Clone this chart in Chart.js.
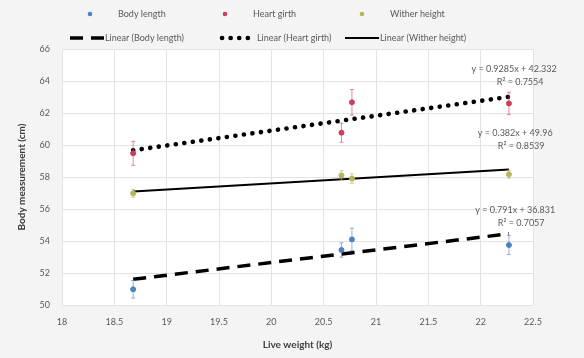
<!DOCTYPE html>
<html>
<head>
<meta charset="utf-8">
<script src="https://cdn.jsdelivr.net/npm/chart.js@4.4.1/dist/chart.umd.min.js"></script>
<style>
  html, body { margin: 0; padding: 0; background: #f4f4f4; }
  #wrap { width: 584px; height: 358px; }
</style>
</head>
<body>
<div id="wrap"><canvas id="myChart" width="584" height="358"></canvas></div>
<script>
// live weight (kg) of each group
const pesoVivo = [18.68, 20.67, 20.77, 22.27];

const largoCuerpo = [50.98, 53.44, 54.10, 53.75];
const errLargo = [0.55, 0.45, 0.7, 0.6];
const perimetroToracico = [59.48, 60.77, 62.67, 62.60];
const errPerimetro = [0.75, 0.6, 0.8, 0.7];
const alturaCruz = [56.98, 58.10, 57.90, 58.17];
const errAltura = [0.25, 0.3, 0.3, 0.25];

// trendline ends (Excel linear fit)
const tendX = [18.68, 22.27];
const tendLargo = [51.61, 54.45];
const tendPerimetro = [59.67, 63.01];
const tendAltura = [57.10, 58.47];

const ecuaciones = [
  ["y = 0.9285x + 42.332", "R² = 0.7554"],
  ["y = 0.382x + 49.96", "R² = 0.8539"],
  ["y = 0.791x + 36.831", "R² = 0.7057"],
];
const ecuacionPos = [[22.32, 64.77], [22.33, 60.75], [22.33, 55.95]];

const ticksX = [18, 18.5, 19, 19.5, 20, 20.5, 21, 21.5, 22, 22.5];
const ticksY = [50, 52, 54, 56, 58, 60, 62, 64, 66];

const azul = "#4f81c7";
const rojo = "#cc3f5c";
const oliva = "#b5b55a";
const fuente = "Lato, 'Open Sans', sans-serif";

const puntos = (xs, ys) => xs.map((x, i) => ({ x: x, y: ys[i] }));

const datasets = [
  { label: "Body length", data: puntos(pesoVivo, largoCuerpo), err: errLargo, showLine: false,
    backgroundColor: azul, borderColor: azul, pointRadius: 2.5 },
  { label: "Heart girth", data: puntos(pesoVivo, perimetroToracico), err: errPerimetro, showLine: false,
    backgroundColor: rojo, borderColor: rojo, pointRadius: 2.5 },
  { label: "Wither height", data: puntos(pesoVivo, alturaCruz), err: errAltura, showLine: false,
    backgroundColor: oliva, borderColor: oliva, pointRadius: 2.5 },
  { label: "Linear (Body length)", data: puntos(tendX, tendLargo), showLine: true, pointRadius: 0,
    borderColor: "#000", borderWidth: 3.5, borderDash: [13, 8] },
  { label: "Linear (Heart girth)", data: puntos(tendX, tendPerimetro), showLine: true, pointRadius: 0,
    borderColor: "#000", borderWidth: 4.6, borderDash: [0.1, 8.5], borderCapStyle: "round" },
  { label: "Linear (Wither height)", data: puntos(tendX, tendAltura), showLine: true, pointRadius: 0,
    borderColor: "#000", borderWidth: 2 },
];

const fondoArea = {
  id: "fondoArea",
  beforeDraw(chart) {
    const { ctx, chartArea: a } = chart;
    ctx.save();
    ctx.fillStyle = "#ffffff";
    ctx.fillRect(a.left, a.top, a.right - a.left, a.bottom - a.top);
    ctx.restore();
  },
};

const barrasError = {
  id: "barrasError",
  afterDatasetsDraw(chart) {
    const { ctx, scales } = chart;
    ctx.save();
    chart.data.datasets.forEach((ds) => {
      if (!ds.err) return;
      ctx.strokeStyle = ds.borderColor;
      ctx.globalAlpha = 0.6;
      ctx.lineWidth = 1;
      ds.data.forEach((p, i) => {
        const x = scales.x.getPixelForValue(p.x);
        const y1 = scales.y.getPixelForValue(p.y + ds.err[i]);
        const y2 = scales.y.getPixelForValue(p.y - ds.err[i]);
        ctx.beginPath();
        ctx.moveTo(x, y1); ctx.lineTo(x, y2);
        ctx.moveTo(x - 2, y1); ctx.lineTo(x + 2, y1);
        ctx.moveTo(x - 2, y2); ctx.lineTo(x + 2, y2);
        ctx.stroke();
      });
    });
    ctx.restore();
  },
};

const textos = {
  id: "textos",
  afterDraw(chart) {
    const { ctx, scales } = chart;
    ctx.save();
    ctx.fillStyle = "#595959";
    ctx.font = "9px " + fuente;
    ctx.textAlign = "center";
    ctx.textBaseline = "middle";
    ecuaciones.forEach((eq, i) => {
      const x = scales.x.getPixelForValue(ecuacionPos[i][0]);
      const y = scales.y.getPixelForValue(ecuacionPos[i][1]);
      ctx.fillText(eq[0], x, y);
      ctx.fillText(eq[1], x + 6, y + 13);
    });

    // legend, two rows
    ctx.textAlign = "left";
    const fila1 = [[90, azul, "Body length"], [225, rojo, "Heart girth"], [362, oliva, "Wither height"]];
    fila1.forEach(([x, c, t]) => {
      ctx.fillStyle = c;
      ctx.beginPath(); ctx.arc(x, 14, 2.3, 0, Math.PI * 2); ctx.fill();
      ctx.fillStyle = "#595959";
      ctx.fillText(t, x + 28, 14);
    });
    const fila2 = [[70, 3.5, [13, 8], "butt", "Linear (Body length)"],
                   [222, 4.6, [0.1, 8.5], "round", "Linear (Heart girth)"],
                   [345, 2, [], "butt", "Linear (Wither height)"]];
    fila2.forEach(([x, w, d, cap, t]) => {
      ctx.strokeStyle = "#000";
      ctx.lineWidth = w;
      ctx.setLineDash(d);
      ctx.lineCap = cap;
      ctx.beginPath(); ctx.moveTo(x, 38); ctx.lineTo(x + 34, 38); ctx.stroke();
      ctx.setLineDash([]);
      ctx.fillStyle = "#595959";
      ctx.fillText(t, x + 35, 38);
    });
    ctx.restore();
  },
};

const config = {
  type: "scatter",
  data: { datasets },
  options: {
    responsive: false,
    animation: false,
    layout: { padding: { top: 49, right: 51, left: 12, bottom: 7 } },
    plugins: { legend: { display: false }, tooltip: { enabled: false } },
    scales: {
      x: {
        type: "linear", min: 18, max: 22.5,
        afterBuildTicks: (s) => { s.ticks = ticksX.map((v) => ({ value: v })); },
        afterFit: (s) => { s.height = 46; },
        grid: { color: "#e3e3e3", drawTicks: false },
        border: { display: false },
        ticks: { color: "#595959", font: { family: fuente, size: 9 }, padding: 12,
                 callback: (v) => String(v) },
        title: { display: true, text: "Live weight (kg)", color: "#404040",
                 font: { family: fuente, size: 10, weight: "bold" }, padding: { top: 2, bottom: 0 } },
      },
      y: {
        type: "linear", min: 50, max: 66,
        afterBuildTicks: (s) => { s.ticks = ticksY.map((v) => ({ value: v })); },
        afterFit: (s) => { s.width = 50; },
        grid: { color: "#e3e3e3", drawTicks: false },
        border: { display: false },
        ticks: { color: "#595959", font: { family: fuente, size: 9 }, padding: 12 },
        title: { display: true, text: "Body measurement (cm)", color: "#404040",
                 font: { family: fuente, size: 10, weight: "bold" }, padding: { bottom: 0 } },
      },
    },
  },
  plugins: [fondoArea, barrasError, textos],
};

const myChart = new Chart(document.querySelector("#myChart"), config);
</script>
</body>
</html>
